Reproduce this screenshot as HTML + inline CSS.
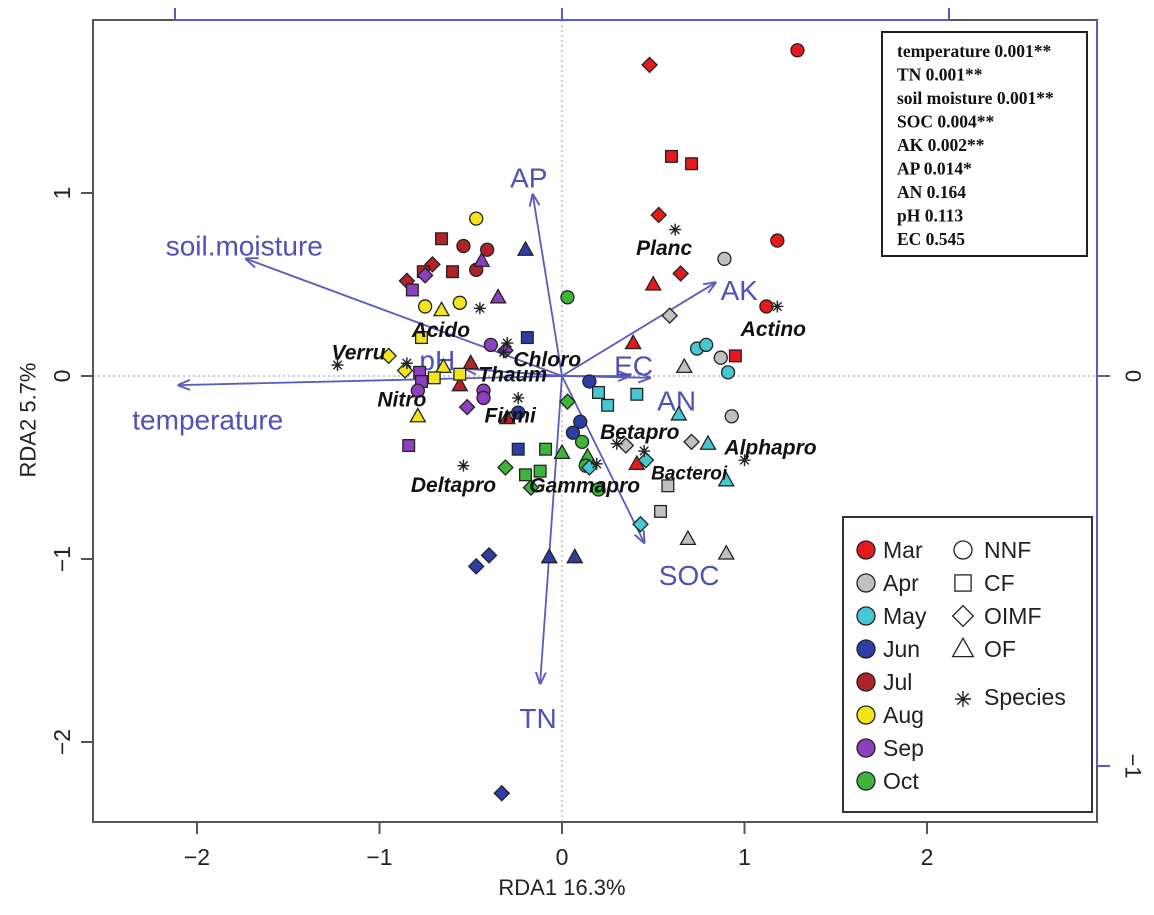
<!DOCTYPE html>
<html><head><meta charset="utf-8"><style>
html,body{margin:0;padding:0;background:#fff;}
svg{display:block;font-family:"Liberation Sans",sans-serif;}
</style></head><body>
<svg id="chart" width="1154" height="915" viewBox="0 0 1154 915" xmlns="http://www.w3.org/2000/svg">
<rect width="1154" height="915" fill="#fff"/>
<g id="frame"></g>
<g id="arrows"></g>
<g id="points"></g>
<g id="species"></g>
<g id="legends"></g>
</svg>
<script>
// ---- data ----
const xTicks = [-2, -1, 0, 1, 2];
const yTicks = [1, 0, -1, -2];
const rightTicks = [0, -1];
const topTicks = [-1, 0, 1];
const months = ["Mar","Apr","May","Jun","Jul","Aug","Sep","Oct"];
const monthColors = ["#e8191d","#c0c0c0","#45c8d2","#2c3ea6","#b02328","#f3e41c","#8c3fbf","#3db53a"];
const sites = ["NNF","CF","OIMF","OF"];
const siteShapes = ["circle","square","diamond","triangle"];
const sampleX = [1.29,0.48,0.60,0.71,0.53,1.18,0.65,0.50,1.12,0.95,0.39,0.41,
 -0.66,-0.54,-0.41,-0.60,-0.47,-0.71,-0.85,-0.76,-0.50,-0.56,-0.30,
 -0.82,-0.75,-0.44,-0.35,-0.39,-0.31,-0.78,-0.77,-0.79,-0.43,-0.43,-0.52,-0.84,
 -0.47,-0.75,-0.56,-0.66,-0.77,-0.95,-0.86,-0.65,-0.70,-0.56,-0.79,
 -0.20,-0.19,-0.24,-0.24,0.15,0.10,0.06,-0.07,0.07,-0.47,-0.40,-0.33,
 0.03,0.03,-0.09,0.00,0.11,0.14,0.13,-0.12,-0.31,-0.17,0.20,-0.20,
 0.20,0.25,0.41,0.74,0.79,0.91,0.64,0.80,0.90,0.46,0.15,0.43,
 0.89,0.59,0.67,0.87,0.93,0.71,0.35,0.58,0.54,0.69,0.90];
const sampleY = [1.78,1.70,1.20,1.16,0.88,0.74,0.56,0.50,0.38,0.11,0.18,-0.48,
 0.75,0.71,0.69,0.57,0.58,0.61,0.52,0.57,0.07,-0.05,-0.23,
 0.47,0.55,0.63,0.43,0.17,0.14,0.02,-0.03,-0.08,-0.08,-0.12,-0.17,-0.38,
 0.86,0.38,0.40,0.36,0.21,0.11,0.03,0.05,-0.01,0.01,-0.22,
 0.69,0.21,-0.20,-0.40,-0.03,-0.25,-0.31,-0.99,-0.99,-1.04,-0.98,-2.28,
 0.43,-0.14,-0.40,-0.42,-0.36,-0.44,-0.49,-0.52,-0.50,-0.61,-0.62,-0.54,
 -0.09,-0.16,-0.10,0.15,0.17,0.02,-0.21,-0.37,-0.57,-0.46,-0.50,-0.81,
 0.64,0.33,0.05,0.10,-0.22,-0.36,-0.38,-0.60,-0.74,-0.89,-0.97];
const sampleMonth = [0,0,0,0,0,0,0,0,0,0,0,0, 4,4,4,4,4,4,4,4,4,4,4,
 6,6,6,6,6,6,6,6,6,6,6,6,6, 5,5,5,5,5,5,5,5,5,5,5,
 3,3,3,3,3,3,3,3,3,3,3,3, 7,7,7,7,7,7,7,7,7,7,7,7,
 2,2,2,2,2,2,2,2,2,2,2,2, 1,1,1,1,1,1,1,1,1,1,1];
const sampleSite = [0,2,1,1,2,0,2,3,0,1,3,3, 1,0,0,1,0,2,2,1,3,3,3,
 1,2,3,3,0,2,1,1,0,0,0,2,1, 0,0,0,3,1,2,2,3,1,1,3,
 3,1,0,1,0,0,0,3,3,2,2,2, 0,2,1,3,0,3,0,1,2,2,0,1,
 1,1,1,0,0,0,3,3,3,2,2,2, 0,2,3,0,0,2,2,1,1,3,3];
const speciesNames = ["Verru","Acido","Chloro","Thaum","Nitro","Firmi","Deltapro","Gammapro","Betapro","Bacteroi","Alphapro","Planc","Actino"];
const speciesX = [-1.23,-0.45,-0.30,-0.32,-0.85,-0.24,-0.54,0.19,0.30,0.45,1.00,0.62,1.18];
const speciesY = [0.06,0.37,0.18,0.13,0.07,-0.12,-0.49,-0.48,-0.37,-0.41,-0.46,0.80,0.38];
const envNames = ["soil.moisture","temperature","AP","TN","AK","EC","AN","SOC","pH"];
const envX = [-1.73,-2.10,-0.16,-0.12,0.84,0.37,0.48,0.45,-0.53];
const envY = [0.64,-0.05,0.99,-1.68,0.51,0.00,-0.01,-0.91,0.04];
const statsLines = ["temperature 0.001**","TN 0.001**","soil moisture 0.001**","SOC 0.004**","AK 0.002**","AP 0.014*","AN 0.164","pH 0.113","EC 0.545"];

// ---- layout (styling, not data) ----
const speciesLabelDX = [21,-39,40,9,-5,-8,-10,-12,23,45,26,-11,-4];
const speciesLabelDY = [-12,22,17,23,37,18,20,22,-11,23,-12,19,23];
const envLabelDX = [-2,29,-4,-2,24,4,27,45,-28];
const envLabelDY = [-13,35,-17,35,8,-10,23,33,-8];

const X = v => 562 + v * 182.5;
const Y = v => 376 - v * 183;
const XR = v => 562 + v * 387;
const YR = v => 376 - v * 390;
const NS = "http://www.w3.org/2000/svg";
function mk(tag, attrs, parent){const e=document.createElementNS(NS,tag);for(const k in attrs)e.setAttribute(k,attrs[k]);parent.appendChild(e);return e;}
const frame=document.getElementById('frame');
let z1=mk('line',{x1:X(0),x2:X(0),y1:20,y2:822,stroke:'#aaa','stroke-dasharray':'2,3','stroke-width':1.2},frame);


let z2=mk('line',{x1:93,x2:1097,y1:Y(0),y2:Y(0),stroke:'#aaa','stroke-dasharray':'2,3','stroke-width':1.2},frame);


let box=mk('rect',{x:93,y:20,width:1004,height:802,fill:'none',stroke:'#555','stroke-width':2},frame);


let ta=mk('line',{x1:XR(-1),x2:XR(1),y1:20,y2:20,stroke:'#5a5ac0','stroke-width':2},frame);


topTicks.forEach(t=>{let l=mk('line',{x1:XR(t),x2:XR(t),y1:20,y2:8,stroke:'#5a5ac0','stroke-width':2},frame);

});
let ra=mk('line',{x1:1097,x2:1097,y1:20,y2:YR(-1),stroke:'#5a5ac0','stroke-width':2},frame);


rightTicks.forEach(t=>{let l=mk('line',{x1:1097,x2:1110,y1:YR(t),y2:YR(t),stroke:'#5a5ac0','stroke-width':2},frame);


let tx=mk('text',{x:1133,y:YR(t),'font-size':22,fill:'#222','text-anchor':'middle',transform:`rotate(90 1133 ${YR(t)})`,'dominant-baseline':'central'},frame);tx.textContent=(t<0?'\u2212':'')+Math.abs(t);

});
xTicks.forEach(t=>{let l=mk('line',{x1:X(t),x2:X(t),y1:822,y2:834,stroke:'#555','stroke-width':2},frame);


let tx=mk('text',{x:X(t),y:865,'font-size':23,fill:'#222','text-anchor':'middle'},frame);tx.textContent=(t<0?'\u2212':'')+Math.abs(t);

});
yTicks.forEach(t=>{let l=mk('line',{x1:81,x2:93,y1:Y(t),y2:Y(t),stroke:'#555','stroke-width':2},frame);


let tx=mk('text',{x:62,y:Y(t),'font-size':23,fill:'#222','text-anchor':'middle','dominant-baseline':'central',transform:`rotate(-90 62 ${Y(t)})`},frame);tx.textContent=(t<0?'\u2212':'')+Math.abs(t);

});
let xt=mk('text',{x:562,y:895,'font-size':22,fill:'#222','text-anchor':'middle'},frame);xt.textContent='RDA1 16.3%';


let yt=mk('text',{x:28,y:420,'font-size':22,fill:'#222','text-anchor':'middle','dominant-baseline':'central',transform:'rotate(-90 28 420)'},frame);yt.textContent='RDA2 5.7%';



const ag=document.getElementById('arrows');
mk('defs',{},ag).innerHTML='<marker id="ah" viewBox="0 0 10 10" refX="9" refY="5" markerWidth="7" markerHeight="7" orient="auto"><path d="M0,1 L10,5 L0,9" fill="none" stroke="#5a5ac0" stroke-width="1.5"/></marker>';
envNames.forEach((n,i)=>{
 let l=mk('line',{x1:X(0),y1:Y(0),x2:X(envX[i]),y2:Y(envY[i]),stroke:'#5a5ac0','stroke-width':1.8,'marker-end':'url(#ah)'},ag);
 
 
 let t=mk('text',{x:X(envX[i])+envLabelDX[i],y:Y(envY[i])+envLabelDY[i],'font-size':28,fill:'#5050b8','text-anchor':'middle','dominant-baseline':'central'},ag);t.textContent=n;
 
 
});

function shape(g,type,cx,cy,r,fill){
 let e;
 if(type==='circle') e=mk('circle',{cx,cy,r},g);
 else if(type==='square') e=mk('rect',{x:cx-r*0.9,y:cy-r*0.9,width:r*1.8,height:r*1.8},g);
 else if(type==='diamond') e=mk('polygon',{points:`${cx},${cy-r*1.15} ${cx+r*1.15},${cy} ${cx},${cy+r*1.15} ${cx-r*1.15},${cy}`},g);
 else e=mk('polygon',{points:`${cx},${cy-r*1.2} ${cx+r*1.15},${cy+r*0.85} ${cx-r*1.15},${cy+r*0.85}`},g);
 e.setAttribute('fill',fill);e.setAttribute('stroke','#222');e.setAttribute('stroke-width',1.3);
 return e;
}
const pg=document.getElementById('points');
sampleX.forEach((v,i)=>{
 let e=shape(pg,siteShapes[sampleSite[i]],X(v),Y(sampleY[i]),6.5,monthColors[sampleMonth[i]]);
 
 
});
function star(g,cx,cy,r){
 const p=[];for(let k=0;k<4;k++){const a=k*Math.PI/4;p.push(`M${cx-r*Math.cos(a)},${cy-r*Math.sin(a)}L${cx+r*Math.cos(a)},${cy+r*Math.sin(a)}`);}
 return mk('path',{d:p.join(''),stroke:'#222','stroke-width':1.4,fill:'none'},g);
}
const sg=document.getElementById('species');
speciesNames.forEach((n,i)=>{
 let s=star(sg,X(speciesX[i]),Y(speciesY[i]),6);
 
 
 let t=mk('text',{x:X(speciesX[i])+speciesLabelDX[i],y:Y(speciesY[i])+speciesLabelDY[i],'font-size':n==='Bacteroi'?19:21,'font-weight':'bold','font-style':'italic',fill:'#111','text-anchor':'middle','dominant-baseline':'central'},sg);t.textContent=n;
 
 
});

const lg=document.getElementById('legends');
let sb=mk('rect',{x:882,y:32,width:205,height:224,fill:'#fff',stroke:'#222','stroke-width':2},lg);


statsLines.forEach((s,i)=>{let t=mk('text',{x:897,y:57+i*23.5,'font-size':17.5,'font-weight':'bold','font-family':'"Liberation Serif",serif',fill:'#111'},lg);t.textContent=s;

});
let lb=mk('rect',{x:843,y:517,width:249,height:295,fill:'#fff',stroke:'#333','stroke-width':2},lg);


months.forEach((m,i)=>{const y=550+i*33;
 let c=mk('circle',{cx:866,cy:y,r:9,fill:monthColors[i],stroke:'#222','stroke-width':1.3},lg);
 
 
 let t=mk('text',{x:883,y:y,'font-size':23,fill:'#222','dominant-baseline':'central'},lg);t.textContent=m;
 
 });
sites.forEach((s,i)=>{const y=550+i*33;
 let e=shape(lg,siteShapes[i],963,y,9,'none');
 
 
 let t=mk('text',{x:984,y:y,'font-size':23,fill:'#222','dominant-baseline':'central'},lg);t.textContent=s;
 
 });
let ss=star(lg,963,699,8);


let st=mk('text',{x:984,y:697,'font-size':23,fill:'#222','dominant-baseline':'central'},lg);st.textContent='Species';


</script>
</body></html>
